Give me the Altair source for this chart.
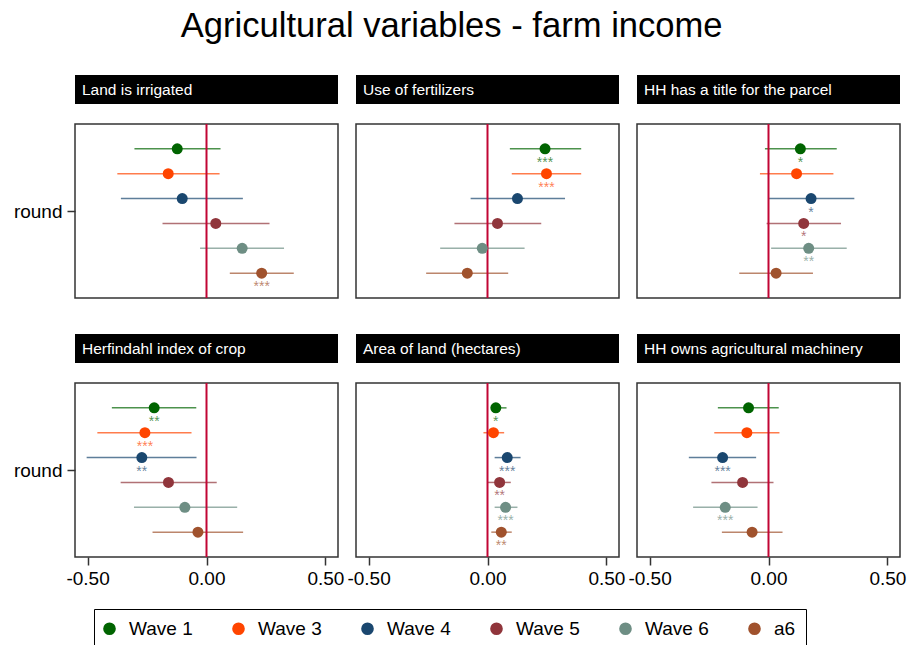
import altair as alt
import pandas as pd

# Coefficient plot: agricultural variables vs. farm income, by survey wave
PANELS = [
    "Land is irrigated",
    "Use of fertilizers",
    "HH has a title for the parcel",
    "Herfindahl index of crop",
    "Area of land (hectares)",
    "HH owns agricultural machinery",
]
WAVES = ["Wave 1", "Wave 3", "Wave 4", "Wave 5", "Wave 6", "a6"]
COLORS = ["#006400", "#ff4500", "#1a476f", "#90353b", "#6e8e84", "#a0522d"]

# point estimates, one row per panel, one column per wave
EST = [
    [-0.123, -0.161, -0.102, 0.039, 0.150, 0.232],
    [0.242, 0.248, 0.126, 0.042, -0.022, -0.085],
    [0.134, 0.118, 0.179, 0.148, 0.169, 0.032],
    [-0.220, -0.259, -0.272, -0.160, -0.091, -0.036],
    [0.035, 0.025, 0.083, 0.051, 0.076, 0.058],
    [-0.084, -0.091, -0.193, -0.109, -0.182, -0.069],
]
# lower confidence bounds
LO = [
    [-0.303, -0.375, -0.360, -0.185, -0.027, 0.098],
    [0.094, 0.102, -0.071, -0.139, -0.199, -0.258],
    [-0.015, -0.036, 0.001, -0.008, 0.011, -0.123],
    [-0.398, -0.459, -0.504, -0.361, -0.305, -0.227],
    [0.016, -0.017, 0.030, 0.002, 0.030, 0.016],
    [-0.213, -0.228, -0.335, -0.240, -0.317, -0.196],
]
# upper confidence bounds
HI = [
    [0.059, 0.055, 0.153, 0.265, 0.326, 0.367],
    [0.394, 0.394, 0.326, 0.226, 0.156, 0.087],
    [0.287, 0.273, 0.361, 0.305, 0.329, 0.187],
    [-0.043, -0.063, -0.042, 0.043, 0.129, 0.154],
    [0.080, 0.070, 0.139, 0.098, 0.126, 0.102],
    [0.043, 0.046, -0.052, 0.021, -0.046, 0.059],
]
# significance stars
STARS = [
    ["", "", "", "", "", "***"],
    ["***", "***", "", "", "", ""],
    ["*", "", "*", "*", "**", ""],
    ["**", "***", "**", "", "", ""],
    ["*", "", "***", "**", "***", "**"],
    ["", "", "***", "", "***", ""],
]

rows = []
for p, panel in enumerate(PANELS):
    for w, wave in enumerate(WAVES):
        rows.append({
            "panel": panel, "wave": wave, "pos": w + 1,
            "est": EST[p][w], "lo": LO[p][w], "hi": HI[p][w],
            "stars": STARS[p][w],
        })
df = pd.DataFrame(rows)

FONT = "Liberation Sans"
W, H = 263, 174
XDOM = [-0.553, 0.553]

x_scale = alt.Scale(domain=XDOM, nice=False, zero=False)
y_scale = alt.Scale(domain=[0, 7], reverse=True, nice=False, zero=False)
color_scale = alt.Scale(domain=WAVES, range=COLORS)

legend = alt.Legend(
    title=None, orient="none", legendX=19, legendY=485,
    direction="horizontal", columns=6, symbolType="circle",
    symbolSize=160, symbolStrokeWidth=0, symbolOpacity=1, symbolOffset=-4,
    labelFontSize=19, labelFont=FONT, labelColor="black",
    labelOffset=10, columnPadding=39, padding=10,
    strokeColor="black", fillColor="white",
)
color = alt.Color("wave:N", scale=color_scale, sort=WAVES, legend=legend)


def x_axis(show):
    if not show:
        return alt.Axis(labels=False, ticks=False, domain=False, grid=False, title=None)
    return alt.Axis(
        values=[-0.5, 0, 0.5], title=None, grid=False, domain=False,
        tickSize=8, tickWidth=1.5, tickColor="#333", labelFontSize=19,
        labelFont=FONT, labelColor="black", labelPadding=4,
        labelExpr="datum.value < 0 ? '-' + format(-datum.value, '.2f') : format(datum.value, '.2f')",
    )


def y_axis(show):
    if not show:
        return alt.Axis(labels=False, ticks=False, domain=False, grid=False, title=None)
    return alt.Axis(
        values=[3.5], title=None, grid=False, domain=False, tickSize=8,
        tickWidth=1.5, tickColor="#333", labelFontSize=19, labelFont=FONT,
        labelColor="black", labelPadding=5, labelExpr="'round'",
    )


def panel(i):
    name = PANELS[i]
    xa, ya = x_axis(i >= 3), y_axis(i % 3 == 0)
    base = alt.Chart(df).transform_filter(alt.datum.panel == name)
    one = base.transform_filter(alt.datum.wave == "Wave 1")

    header_bg = one.mark_rect(color="black").encode(
        x=alt.value(0), x2=alt.value(W), y=alt.value(-49), y2=alt.value(-20)
    )
    header_txt = one.mark_text(
        align="left", baseline="middle", color="white", fontSize=15.5, font=FONT
    ).encode(x=alt.value(7), y=alt.value(-34.5), text="panel:N")

    ci = base.mark_rule(strokeWidth=1.5, strokeOpacity=0.7).encode(
        x=alt.X("lo:Q", scale=x_scale, axis=xa),
        x2="hi:Q",
        y=alt.Y("pos:Q", scale=y_scale, axis=ya),
        color=color,
    )
    zero = one.mark_rule(color="#c10534", strokeWidth=2).encode(
        x=alt.datum(0, scale=x_scale, axis=xa)
    )
    pts = base.mark_circle(size=121, opacity=1).encode(
        x=alt.X("est:Q", scale=x_scale, axis=xa),
        y=alt.Y("pos:Q", scale=y_scale, axis=ya),
        color=color,
    )
    stars = base.mark_text(
        fontSize=14, baseline="alphabetic", dy=18, fillOpacity=0.7, font=FONT
    ).encode(
        x=alt.X("est:Q", scale=x_scale, axis=xa),
        y=alt.Y("pos:Q", scale=y_scale, axis=ya),
        text="stars:N",
        color=color,
    )
    return alt.layer(header_bg, header_txt, ci, zero, pts, stars).properties(
        width=W, height=H
    )


chart = (
    alt.concat(*[panel(i) for i in range(6)], columns=3,
               spacing={"row": 85, "column": 18})
    .resolve_scale(color="shared")
    .resolve_legend(color="shared")
    .properties(
        bounds="flush",
        padding={"left": 12, "top": 8, "right": 2, "bottom": 0},
        title=alt.Title(
            "Agricultural variables - farm income", fontSize=34.6, font=FONT,
            fontWeight="normal", color="black", anchor="middle", offset=30,
            dx=-8,
        ),
    )
    .configure_view(stroke="#333", strokeWidth=1.5)
)

chart.save("out.html", embed_options={"renderer": "svg", "actions": False})
